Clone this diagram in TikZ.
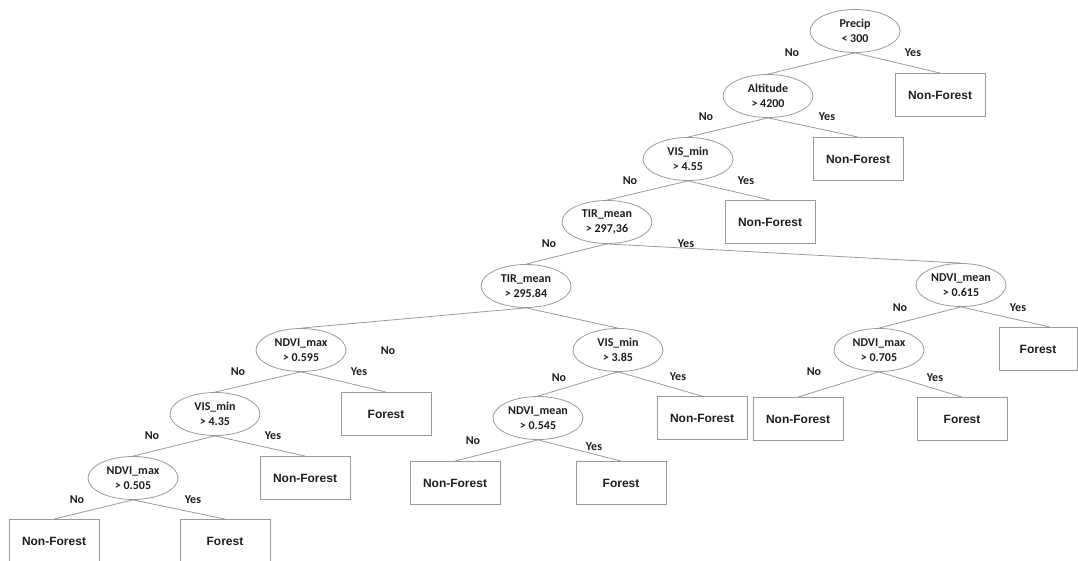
\documentclass[tikz,border=0pt]{standalone}
\usepackage{fontspec}
\usepackage{tikz}
\usetikzlibrary{shapes.geometric,shapes.misc}
\newfontfamily\splitfont{Carlito}
\newfontfamily\leaffont{Liberation Sans}
\definecolor{linegray}{HTML}{9A9A9A}
\definecolor{textdark}{HTML}{1E1E1E}
\tikzset{
  splitnode/.style = {shape=ellipse, draw=linegray, line width=0.8pt,
                      align=center, inner sep=0pt,
                      minimum width=90pt, minimum height=43pt,
                      text=textdark,
                      font=\splitfont\bfseries\fontsize{12}{15}\selectfont},
  leafnode/.style  = {shape=rectangle, draw=linegray, line width=0.9pt,
                      align=center, inner sep=0pt,
                      minimum width=90pt, minimum height=43pt,
                      text=textdark,
                      font=\leaffont\bfseries\fontsize{12}{15}\selectfont},
  answer/.style    = {text=textdark, inner sep=0pt,
                      font=\splitfont\bfseries\fontsize{12}{15}\selectfont},
  branch/.style    = {draw=linegray, line width=0.8pt}
}

\begin{document}
\begin{tikzpicture}[x=1pt,y=-1pt]
\useasboundingbox (0,0) rectangle (1078,560);
% decision nodes
\node [splitnode] (precip) at (855,31)  {Precip\\< 300};
\node [splitnode] (alt)    at (768,96)  {Altitude\\> 4200};
\node [splitnode] (visa)   at (688,159) {VIS\_min\\> 4.55};
\node [splitnode] (tira)   at (607,222) {TIR\_mean\\> 297,36};
\node [splitnode] (tirb)   at (526,286) {TIR\_mean\\> 295.84};
\node [splitnode] (maxa)   at (301,350) {NDVI\_max\\> 0.595};
\node [splitnode] (visb)   at (618,350) {VIS\_min\\> 3.85};
\node [splitnode] (meana)  at (961,285) {NDVI\_mean\\> 0.615};
\node [splitnode] (maxb)   at (879,350) {NDVI\_max\\> 0.705};
\node [splitnode] (visc)   at (215,414) {VIS\_min\\> 4.35};
\node [splitnode] (meanb)  at (538,418) {NDVI\_mean\\> 0.545};
\node [splitnode] (maxc)   at (133,478) {NDVI\_max\\> 0.505};
% leaves
\node [leafnode] (nfa) at (940,95)  {Non-Forest};
\node [leafnode] (nfb) at (858,159) {Non-Forest};
\node [leafnode] (nfc) at (770,222) {Non-Forest};
\node [leafnode, minimum width=78pt] (fa) at (1038,349) {Forest};
\node [leafnode] (fb)  at (386,414) {Forest};
\node [leafnode] (nfd) at (702,418) {Non-Forest};
\node [leafnode] (nfe) at (798,419) {Non-Forest};
\node [leafnode] (fc)  at (962,419) {Forest};
\node [leafnode] (nff) at (305,478) {Non-Forest};
\node [leafnode] (nfg) at (455,483) {Non-Forest};
\node [leafnode] (fd)  at (621,483) {Forest};
\node [leafnode] (nfh) at (54,541)  {Non-Forest};
\node [leafnode] (fe)  at (225,541) {Forest};
% branches
\draw [branch] (precip.south) -- (alt.north);
\draw [branch] (precip.south) -- (nfa.north);
\draw [branch] (alt.south) -- (visa.north);
\draw [branch] (alt.south) -- (nfb.north);
\draw [branch] (visa.south) -- (tira.north);
\draw [branch] (visa.south) -- (nfc.north);
\draw [branch] (tira.south) -- (tirb.north);
\draw [branch] (tira.south) -- (meana.north);
\draw [branch] (tirb.south) -- (maxa.north);
\draw [branch] (tirb.south) -- (visb.north);
\draw [branch] (meana.south) -- (maxb.north);
\draw [branch] (meana.south) -- ([xshift=12pt]fa.north);
\draw [branch] (maxa.south) -- (visc.north);
\draw [branch] (maxa.south) -- (fb.north);
\draw [branch] (visb.south) -- (meanb.north);
\draw [branch] (visb.south) -- (nfd.north);
\draw [branch] (maxb.south) -- (nfe.north);
\draw [branch] (maxb.south) -- (fc.north);
\draw [branch] (visc.south) -- (maxc.north);
\draw [branch] (visc.south) -- (nff.north);
\draw [branch] (meanb.south) -- (nfg.north);
\draw [branch] (meanb.south) -- (fd.north);
\draw [branch] (maxc.south) -- (nfh.north);
\draw [branch] (maxc.south) -- (fe.north);
% yes / no labels
\node [answer] (noa)  at (792,53)  {No};
\node [answer] (yesa) at (913,53)  {Yes};
\node [answer] (nob)  at (706,117) {No};
\node [answer] (yesb) at (827,117) {Yes};
\node [answer] (noc)  at (630,181) {No};
\node [answer] (yesc) at (746,181) {Yes};
\node [answer] (nod)  at (549,244) {No};
\node [answer] (yesd) at (686,244) {Yes};
\node [answer] (noe)  at (388,351) {No};
\node [answer] (nof)  at (900,308) {No};
\node [answer] (yesf) at (1018,308) {Yes};
\node [answer] (nog)  at (238,372) {No};
\node [answer] (yesg) at (359,372) {Yes};
\node [answer] (noh)  at (559,378) {No};
\node [answer] (yesh) at (678,377) {Yes};
\node [answer] (noi)  at (814,372) {No};
\node [answer] (yesi) at (935,378) {Yes};
\node [answer] (noj)  at (152,436) {No};
\node [answer] (yesj) at (273,436) {Yes};
\node [answer] (nok)  at (473,441) {No};
\node [answer] (yesk) at (594,447) {Yes};
\node [answer] (nol)  at (77,500)  {No};
\node [answer] (yesl) at (193,500) {Yes};
\end{tikzpicture}
\end{document}
